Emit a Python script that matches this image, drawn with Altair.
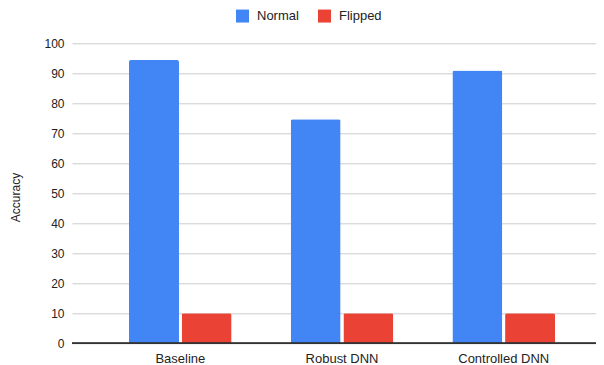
import altair as alt
import pandas as pd

categories = ["Baseline", "Robust DNN", "Controlled DNN"]
series = ["Normal", "Flipped"]
normal_values = [94.4, 74.7, 90.9]
flipped_values = [10.0, 10.0, 10.0]
colors = ["#4285F4", "#EA4335"]
y_ticks = [0, 10, 20, 30, 40, 50, 60, 70, 80, 90, 100]

rows = []
for c, n, f in zip(categories, normal_values, flipped_values):
    rows.append({"model": c, "series": "Normal", "value": n})
    rows.append({"model": c, "series": "Flipped", "value": f})
df = pd.DataFrame(rows)

FONT = "Arial, Liberation Sans, sans-serif"

y_axis = alt.Axis(
    values=y_ticks, tickCount=20, domain=False, ticks=False, labelPadding=8,
    labelOverlap=False, labelFlush=False,
    grid=True, gridColor="#cccccc", labelFontSize=12, labelColor="#222222",
    labelFont=FONT, titleFont=FONT, titleFontSize=12,
    titleFontWeight="normal", titleColor="#222222",
    titleX=-56.5, titleY=153.7, titleAngle=-90, titleBaseline="middle",
)

bars = alt.Chart(df).mark_bar(cornerRadiusTopLeft=2, cornerRadiusTopRight=2).encode(
    x=alt.X(
        "model:N",
        sort=categories,
        title=None,
        scale=alt.Scale(paddingInner=0.365, paddingOuter=0.3028, align=0.582),
        axis=alt.Axis(
            labelAngle=0, domain=False, ticks=False, grid=False, labelPadding=9,
            labelFontSize=13, labelColor="#222222", labelFont=FONT,
        ),
    ),
    xOffset=alt.XOffset(
        "series:N", sort=series,
        scale=alt.Scale(paddingInner=0.051, paddingOuter=0),
    ),
    y=alt.Y(
        "value:Q",
        title="Accuracy",
        scale=alt.Scale(domain=[0, 100], nice=False),
        axis=y_axis,
    ),
    color=alt.Color(
        "series:N",
        sort=series,
        scale=alt.Scale(domain=series, range=colors),
        legend=alt.Legend(
            title=None, orient="none", direction="horizontal",
            legendX=164, legendY=-34, symbolType="square", symbolSize=169,
            symbolStrokeWidth=0, labelFontSize=13, labelFont=FONT,
            labelColor="#222222", labelOffset=8, columnPadding=19, padding=0,
        ),
    ),
)

baseline = alt.Chart(df).mark_rule(color="#333333", strokeWidth=1.2).encode(
    y=alt.datum(0)
)

chart = alt.layer(bars, baseline).properties(
    width=524,
    height=300,
    autosize=alt.AutoSizeParams(type="none"),
    padding={"left": 64, "top": 35.3, "right": 0, "bottom": 22},
).configure_view(stroke=None)

chart.save("out.html", embed_options={"renderer": "svg", "actions": False})
